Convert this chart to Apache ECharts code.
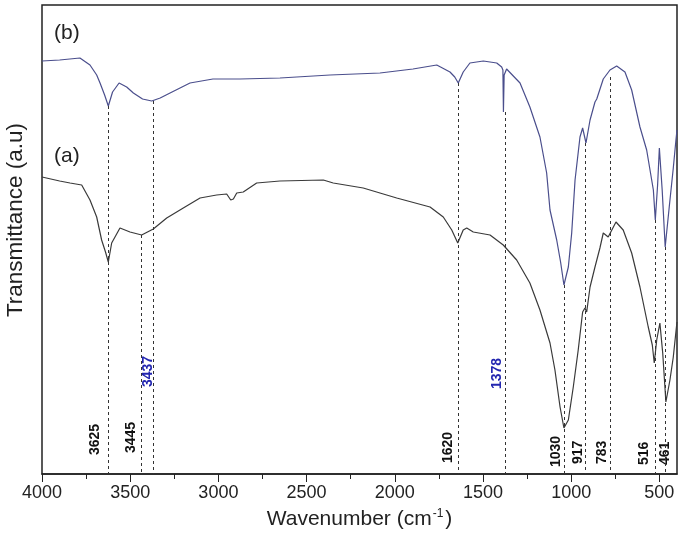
<!DOCTYPE html>
<html>
<head>
<meta charset="utf-8">
<script src="https://cdn.jsdelivr.net/npm/echarts@6/dist/echarts.min.js"></script>
<style>html,body{margin:0;padding:0;background:#fff}#c{width:685px;height:548px}</style>
</head>
<body>
<div id="c"></div>
<script>
// ---- data (wavenumber, transmittance in arbitrary units) ----
const curveA = [
[4000,297],[3900,293],[3841,291],[3775,289],[3728,274],[3690,257],[3662,234],[3640,222],[3624,212],
[3605,231],[3558,246],[3501,242],[3435,239],[3369,245],[3293,256],[3199,266],[3104,276],[3010,279],
[2953,280],[2930,274],[2915,275],[2896,281],[2859,282],[2783,291],[2651,293],[2405,294],[2349,291],
[2179,286],[1989,276],[1800,267],[1725,257],[1677,244],[1643,231],[1612,244],[1592,246],[1555,242],
[1460,239],[1385,229],[1309,214],[1234,191],[1177,164],[1120,131],[1092,104],[1063,67],[1041,46],
[1016,54],[988,87],[960,124],[935,162],[922,166],[912,162],[893,187],[865,207],[837,226],[818,241],
[790,237],[746,252],[705,244],[657,221],[610,187],[563,147],[540,129],[529,111],[515,134],[497,151],
[481,121],[463,72],[440,94],[421,117],[402,149],[400,152]
];
const curveB = [
[4000,413],[3900,414],[3785,416],[3728,409],[3690,399],[3671,391],[3645,379],[3624,368],[3600,382],
[3563,391],[3520,387],[3482,381],[3430,375],[3378,373],[3330,376],[3274,381],[3161,391],[3031,395],
[2878,395],[2651,396],[2367,399],[2084,401],[1897,405],[1762,409],[1687,402],[1660,397],[1640,391],
[1612,402],[1574,411],[1498,413],[1422,411],[1394,407],[1387,404],[1384,362],[1380,399],[1366,405],
[1290,391],[1234,367],[1177,337],[1139,301],[1120,264],[1082,234],[1060,212],[1041,189],[1016,207],
[997,241],[978,294],[950,337],[935,346],[916,331],[893,354],[865,372],[855,375],[818,395],[780,404],
[742,408],[695,402],[657,384],[610,347],[572,324],[534,284],[523,254],[510,289],[500,326],[484,284],
[467,227],[444,267],[421,306],[406,334],[400,344]
];
// peak marker lines: position, top of dashed line
const peakLinePos = [3625, 3435, 3370, 1640, 1374, 1040, 918, 780, 525, 467];
const peakLineTop = [368, 239, 373, 391, 362, 189, 331, 397, 254, 227];
// peak labels: text, anchor position (right edge), bottom of text
const peakText = ['3625','3445','3437','1620','1378','1030','917','783','516','461'];
const peakLabelPos = [3657, 3453, 3359, 1659, 1381, 1045, 922, 782, 549, 430];
const peakLabelY = [19, 21, 87, 11, 85, 7, 10, 10, 9, 9];
const majorTicks = [4000, 3500, 3000, 2500, 2000, 1500, 1000, 500];
const minorTicks = [3750, 3250, 2750, 2250, 1750, 1250, 750];

// ---- styles ----
const blueLabels = ['3437', '1378'];
const FONT = 'Liberation Sans, Arial, sans-serif';

const chart = echarts.init(document.getElementById('c'), null, {renderer: 'canvas'});
const lineData = peakLinePos.map((p, i) => [{coord: [p, peakLineTop[i]]}, {coord: [p, 0]}]);
const labelData = peakText.map((t, i) => ({
  value: [peakLabelPos[i], peakLabelY[i]],
  label: {color: blueLabels.includes(t) ? '#2326b0' : '#111'}
}));

chart.setOption({
  animation: false,
  backgroundColor: '#fff',
  grid: {left: 42, right: 8, top: 5, bottom: 74, show: true, borderColor: '#222', borderWidth: 1.5, backgroundColor: 'transparent'},
  xAxis: [{
    type: 'value', min: 400, max: 4000, inverse: true, position: 'bottom',
    name: 'Wavenumber (cm{sup|-1})', nameLocation: 'middle', nameGap: 34,
    nameTextStyle: {fontFamily: FONT, fontSize: 21, color: '#222',
      rich: {sup: {fontFamily: FONT, fontSize: 12, color: '#222', verticalAlign: 'top', padding: [0, 2, 10, 1]}}},
    axisLine: {show: true, lineStyle: {color: '#222', width: 1.5}},
    axisTick: {show: true, inside: false, length: 8, customValues: majorTicks, lineStyle: {color: '#222', width: 1}},
    axisLabel: {show: true, customValues: majorTicks, margin: 10, fontFamily: FONT, fontSize: 18, color: '#222',
      formatter: v => String(v)},
    splitLine: {show: false}
  }, {
    type: 'value', min: 400, max: 4000, inverse: true, position: 'bottom',
    axisLine: {show: false},
    axisTick: {show: true, inside: false, length: 5, customValues: minorTicks, lineStyle: {color: '#222', width: 1}},
    axisLabel: {show: false},
    splitLine: {show: false}
  }],
  yAxis: {
    type: 'value', min: 0, max: 469,
    axisLine: {show: false}, axisTick: {show: false}, axisLabel: {show: false}, splitLine: {show: false}
  },
  graphic: [
    {type: 'text', x: 16, y: 220, rotation: Math.PI / 2,
     style: {text: 'Transmittance (a.u)', font: '22.5px ' + FONT, fill: '#222', align: 'center', verticalAlign: 'middle'}},
    {type: 'text', left: 54, top: 23, style: {text: '(b)', font: '21px ' + FONT, fill: '#222'}},
    {type: 'text', left: 54, top: 146, style: {text: '(a)', font: '21px ' + FONT, fill: '#222'}}
  ],
  series: [
    {type: 'line', name: 'a', data: curveA, showSymbol: false, symbol: 'none', xAxisIndex: 0,
     lineStyle: {color: '#3a3a3a', width: 1.2}, silent: true},
    {type: 'line', name: 'b', data: curveB, showSymbol: false, symbol: 'none', xAxisIndex: 0,
     lineStyle: {color: '#4a4e8c', width: 1.2}, silent: true},
    {type: 'scatter', name: 'peaks', data: labelData, xAxisIndex: 0, symbolSize: 0.1,
     itemStyle: {color: 'rgba(0,0,0,0)', opacity: 1}, silent: true,
     label: {show: true, position: 'inside', rotate: 90, align: 'left', verticalAlign: 'bottom',
       fontFamily: FONT, fontSize: 14, fontWeight: 'bold', opacity: 1,
       formatter: p => peakText[p.dataIndex]},
     markLine: {silent: true, symbol: ['none', 'none'], label: {show: false},
       lineStyle: {type: [3, 3], color: '#333', width: 1}, data: lineData}
    }
  ]
});
</script>
</body>
</html>
